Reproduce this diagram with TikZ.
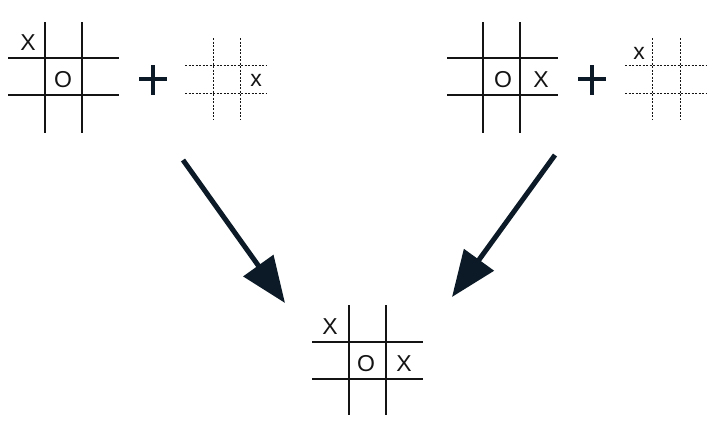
\documentclass[tikz,border=0pt]{standalone}
\usepackage{fontspec}
\setmainfont{Liberation Sans}
\usepackage[usenames]{xcolor}
\usepackage{tikz}
\usetikzlibrary{arrows.meta}
\definecolor{inkblue}{HTML}{0B1A26}
\definecolor{gridgray}{HTML}{141414}

\begin{document}
\begin{tikzpicture}[line cap=butt,line join=round,x=1pt,y=-1pt,
  solidgrid/.style={draw=gridgray,line width=1.2pt},
  dashgrid/.style={draw=gridgray,line width=0.95pt,dash pattern=on 2pt off 1.5pt},
  markt/.style={inner sep=0pt,text=gridgray,font=\fontsize{23}{27}\selectfont},
  plusmark/.style={draw=inkblue,line width=4.2pt},
  bigarrow/.style={draw=inkblue,fill=inkblue,line width=5pt,-{Triangle[length=46pt,width=36pt]}}]
\useasboundingbox (0,0) rectangle (720,432);
% left board
\draw[solidgrid] (45,22)-- (45,133);
\draw[solidgrid] (82,22)-- (82,133);
\draw[solidgrid] (8,58)-- (119,58);
\draw[solidgrid] (8,95)-- (119,95);
\node[markt] (lx1) at (28,43) {X};
\node[markt] (lo1) at (63,80) {O};
% left plus and move
\draw[plusmark] (139,79)-- (167,79) (153,65)-- (153,95);
\draw[dashgrid] (213,38)-- (213,119);
\draw[dashgrid] (240,38)-- (240,119);
\draw[dashgrid] (185,65)-- (267,65);
\draw[dashgrid] (185,93)-- (267,93);
\node[markt] (lmove) at (256,80) {x};
% right board
\draw[solidgrid] (483,22)-- (483,133);
\draw[solidgrid] (520,22)-- (520,133);
\draw[solidgrid] (447,58)-- (558,58);
\draw[solidgrid] (447,95)-- (558,95);
\node[markt] (ro1) at (503,80) {O};
\node[markt] (rx1) at (541,80) {X};
% right plus and move
\draw[plusmark] (578,79)-- (606,79) (592,65)-- (592,95);
\draw[dashgrid] (652,38)-- (652,119);
\draw[dashgrid] (680,38)-- (680,119);
\draw[dashgrid] (625,65)-- (707,65);
\draw[dashgrid] (625,93)-- (707,93);
\node[markt] (rmove) at (639,53) {x};
% result board
\draw[solidgrid] (349,305)-- (349,415);
\draw[solidgrid] (386,305)-- (386,415);
\draw[solidgrid] (312,342)-- (423,342);
\draw[solidgrid] (312,379)-- (423,379);
\node[markt] (bx1) at (330,327) {X};
\node[markt] (bo1) at (366,364) {O};
\node[markt] (bx2) at (404,364) {X};
% arrows
\coordinate (ltail) at (183,160);
\coordinate (lhead) at (285,303);
\coordinate (rtail) at (555,155);
\coordinate (rhead) at (452,297);
\draw[bigarrow] (ltail)-- (lhead);
\draw[bigarrow] (rtail)-- (rhead);
\end{tikzpicture}
\end{document}
